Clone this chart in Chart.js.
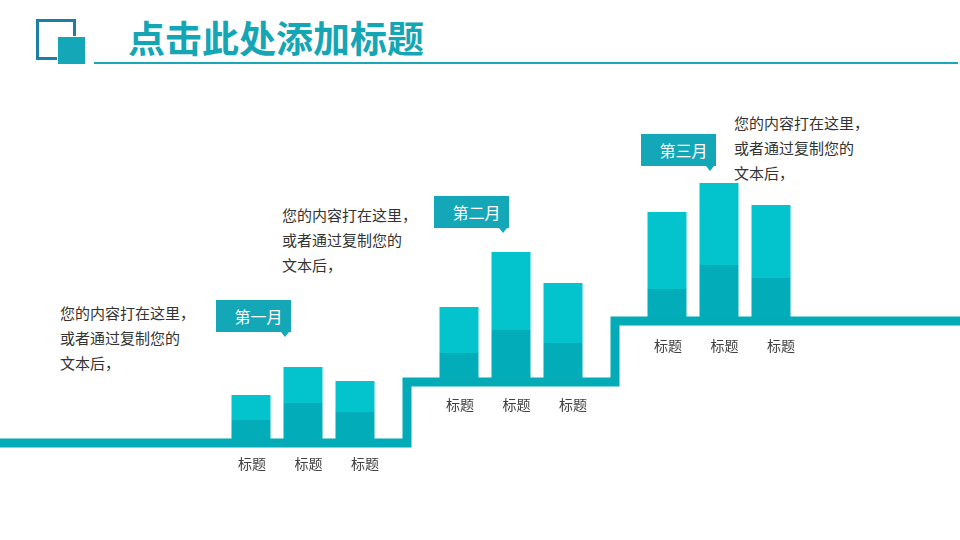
<!DOCTYPE html>
<html>
<head>
<meta charset="utf-8">
<script src="https://cdn.jsdelivr.net/npm/chart.js@4/dist/chart.umd.min.js"></script>
<style>
  html, body { margin: 0; padding: 0; background: #fff; }
  body { width: 960px; height: 540px; position: relative; overflow: hidden;
         font-family: "Noto Sans CJK SC", "Noto Sans", sans-serif; }
  #chart { position: absolute; left: -35.5px; top: 0; }
  .icon-outline { position: absolute; left: 36px; top: 19px; width: 34px; height: 35px;
                  border: 3px solid #1a7fa3; }
  .icon-fill { position: absolute; left: 57px; top: 36px; width: 27px; height: 27px;
               background: #13a7b7; border: 1px solid #fff; }
  .title { position: absolute; left: 128px; top: 19px; line-height: 37px; font-size: 37px;
           font-weight: bold; color: #15a6b6; letter-spacing: 0; }
  .title-rule { position: absolute; left: 94px; top: 62px; width: 864px; height: 2px; background: #1aa7b7; }
  .note { position: absolute; font-size: 15px; line-height: 25px; color: #333; white-space: pre; }
  .tag { position: absolute; width: 75px; height: 32px; background: #13a7b7; color: #fff;
         font-size: 16px; line-height: 32px; text-align: center; box-sizing: border-box; padding-left: 10px; }
  .tag::after { content: ""; position: absolute; right: 2px; bottom: -5px;
                border-left: 4px solid transparent; border-right: 4px solid transparent;
                border-top: 5px solid #13a7b7; }
</style>
</head>
<body>
<div class="icon-outline"></div>
<div class="icon-fill"></div>
<div class="title">点击此处添加标题</div>
<div class="title-rule"></div>

<div class="note" style="left:60px; top:300px;">您的内容打在这里，
或者通过复制您的
文本后，</div>
<div class="note" style="left:282px; top:202px;">您的内容打在这里，
或者通过复制您的
文本后，</div>
<div class="note" style="left:734px; top:110px;">您的内容打在这里，
或者通过复制您的
文本后，</div>

<div class="tag" style="left:216px; top:300px;">第一月</div>
<div class="tag" style="left:434px; top:196px;">第二月</div>
<div class="tag" style="left:641px; top:134px;">第三月</div>

<canvas id="chart" width="1040" height="540"></canvas>

<script>
// ================= DATA =================
const months = ["第一月", "第二月", "第三月"];
const barLabels = ["标题", "标题", "标题", "标题", "标题", "标题", "标题", "标题", "标题"];
// level of the step for each month
const monthLevels = [0, 30.5, 61];
// dark lower part and light upper part of each bar
const lowerValues = [11.5, 20, 15.5, 14.5, 26, 19.5, 16, 28, 21.5];
const upperValues = [12.5, 18, 15.5, 23, 39, 30, 38.5, 41, 36.5];

// ================= SLOT LAYOUT =================
const LEAD = 5, GAP = 1, TRAIL = 4, PER_MONTH = 3;
const slots = [];
for (let i = 0; i < LEAD; i++) slots.push({ label: "", month: 0, bar: -1, pos: -1 });
months.forEach((m, g) => {
  if (g > 0) for (let k = 0; k < GAP; k++) slots.push({ label: "", month: g, bar: -1, pos: -1 });
  for (let b = 0; b < PER_MONTH; b++) {
    const idx = g * PER_MONTH + b;
    slots.push({ label: barLabels[idx], month: g, bar: idx, pos: b });
  }
});
for (let i = 0; i < TRAIL; i++) slots.push({ label: "", month: months.length - 1, bar: -1, pos: -1 });

const darkData = slots.map(s => s.bar < 0 ? null :
  [monthLevels[s.month], monthLevels[s.month] + lowerValues[s.bar]]);
const lightData = slots.map(s => s.bar < 0 ? null :
  [monthLevels[s.month] + lowerValues[s.bar], monthLevels[s.month] + lowerValues[s.bar] + upperValues[s.bar]]);
const stepData = slots.map(s => monthLevels[s.month]);

// ================= BAR LABELS PLUGIN =================
const barLabelPlugin = {
  id: "barLabels",
  afterDatasetsDraw(chart) {
    const ctx = chart.ctx;
    const meta = chart.getDatasetMeta(0);
    ctx.save();
    ctx.font = '14px "Noto Sans CJK SC", sans-serif';
    ctx.fillStyle = "#404040";
    ctx.textAlign = "center";
    ctx.textBaseline = "middle";
    meta.data.forEach((el, i) => {
      const s = slots[i];
      if (s.bar < 0) return;
      // labels sit a little wider apart than the bars
      ctx.fillText(s.label, el.x + 1 + s.pos * 4.5, el.base + 21 + s.month * 2);
    });
    ctx.restore();
  }
};

// ================= CHART =================
const ctx = document.getElementById("chart").getContext("2d");
new Chart(ctx, {
  type: "bar",
  data: {
    labels: slots.map(s => s.label),
    datasets: [
      {
        label: "lower",
        data: darkData,
        backgroundColor: "#02adb9",
        grouped: false,
        barPercentage: 0.75,
        categoryPercentage: 1,
        order: 1
      },
      {
        label: "upper",
        data: lightData,
        backgroundColor: "#03c3cd",
        grouped: false,
        barPercentage: 0.75,
        categoryPercentage: 1,
        order: 2
      },
      {
        type: "line",
        label: "step",
        data: stepData,
        borderColor: "#03abb7",
        borderWidth: 9,
        stepped: true,
        pointRadius: 0,
        fill: false,
        borderJoinStyle: "miter",
        borderCapStyle: "butt",
        order: 0
      }
    ]
  },
  options: {
    responsive: false,
    animation: false,
    layout: { padding: 0 },
    plugins: {
      legend: { display: false },
      tooltip: { enabled: false }
    },
    scales: {
      x: { display: false, offset: true },
      y: { display: false, min: -48.5, max: 221.5 }
    }
  },
  plugins: [barLabelPlugin]
});
</script>
</body>
</html>
